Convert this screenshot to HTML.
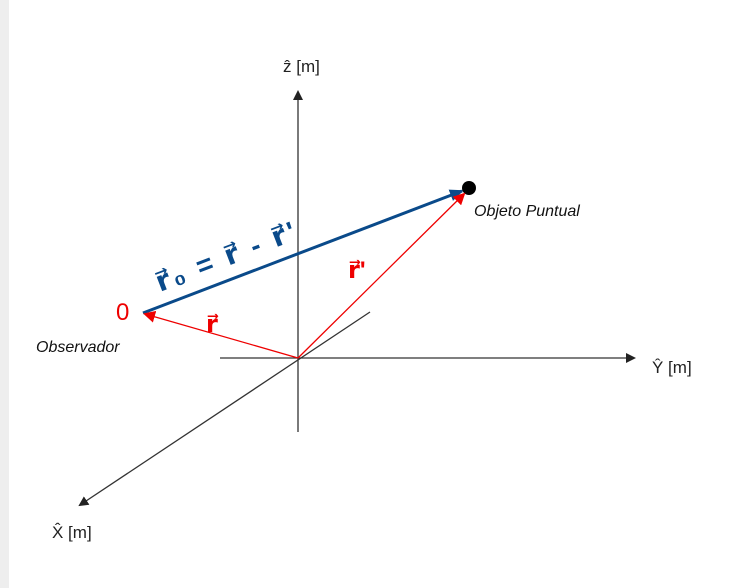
<!DOCTYPE html>
<html><head><style>
body{margin:0;width:751px;height:588px;background:#fff;overflow:hidden;position:relative;font-family:"Liberation Sans",sans-serif}
.bar{position:absolute;left:0;top:0;width:9px;height:588px;background:#eeeeee}
</style></head><body>
<div class="bar"></div>
<svg width="751" height="588" style="position:absolute;left:0;top:0">
<defs>
<marker id="ak" markerWidth="10" markerHeight="10" refX="8" refY="5" orient="auto" markerUnits="userSpaceOnUse"><path d="M0,0 L10,5 L0,10 z" fill="#222"/></marker>
<marker id="ar" markerWidth="12" markerHeight="12" refX="10" refY="6" orient="auto" markerUnits="userSpaceOnUse"><path d="M0,0 L12,6 L0,12 z" fill="#e00"/></marker>
<marker id="ab" markerWidth="14" markerHeight="12" refX="12" refY="6" orient="auto" markerUnits="userSpaceOnUse"><path d="M0,0 L14,6 L0,12 z" fill="#0a4a8a"/></marker>
</defs>
<g stroke="#333" stroke-width="1.3" fill="none">
<line x1="298" y1="432" x2="298" y2="92" marker-end="url(#ak)"/>
<line x1="220" y1="358" x2="634" y2="358" marker-end="url(#ak)"/>
<line x1="370" y1="312" x2="80" y2="505" marker-end="url(#ak)"/>
</g>
<line x1="143" y1="313" x2="462" y2="191" stroke="#0a4a8a" stroke-width="3" marker-end="url(#ab)"/>
<circle cx="469" cy="188" r="7" fill="#000"/>
<g stroke="#e00" stroke-width="1.3">
<line x1="298" y1="358" x2="464" y2="194" marker-end="url(#ar)"/>
<line x1="298" y1="358" x2="145" y2="314" marker-end="url(#ar)"/>
</g>
<g font-family="Liberation Sans, sans-serif">
<text x="283" y="72" font-size="17" fill="#222">ẑ [m]</text>
<text x="652" y="373" font-size="17" fill="#222">Ŷ [m]</text>
<text x="52" y="538" font-size="17" fill="#222">X̂ [m]</text>
<text x="474" y="216" font-size="16" fill="#111" font-style="italic">Objeto Puntual</text>
<text x="36" y="352" font-size="16" fill="#111" font-style="italic">Observador</text>
<text x="116" y="320" font-size="24" fill="#e00">0</text>
<text x="206" y="332" font-size="24" fill="#e00" font-weight="bold">r⃗</text>
<text x="348" y="278" font-size="24" fill="#e00" font-weight="bold">r⃗'</text>
<text x="160" y="292" font-size="28" fill="#0a4a8a" font-weight="bold" letter-spacing="3" transform="rotate(-21 160 292)">r⃗₀ = r⃗ - r⃗'</text>
</g>
</svg>
</body></html>
